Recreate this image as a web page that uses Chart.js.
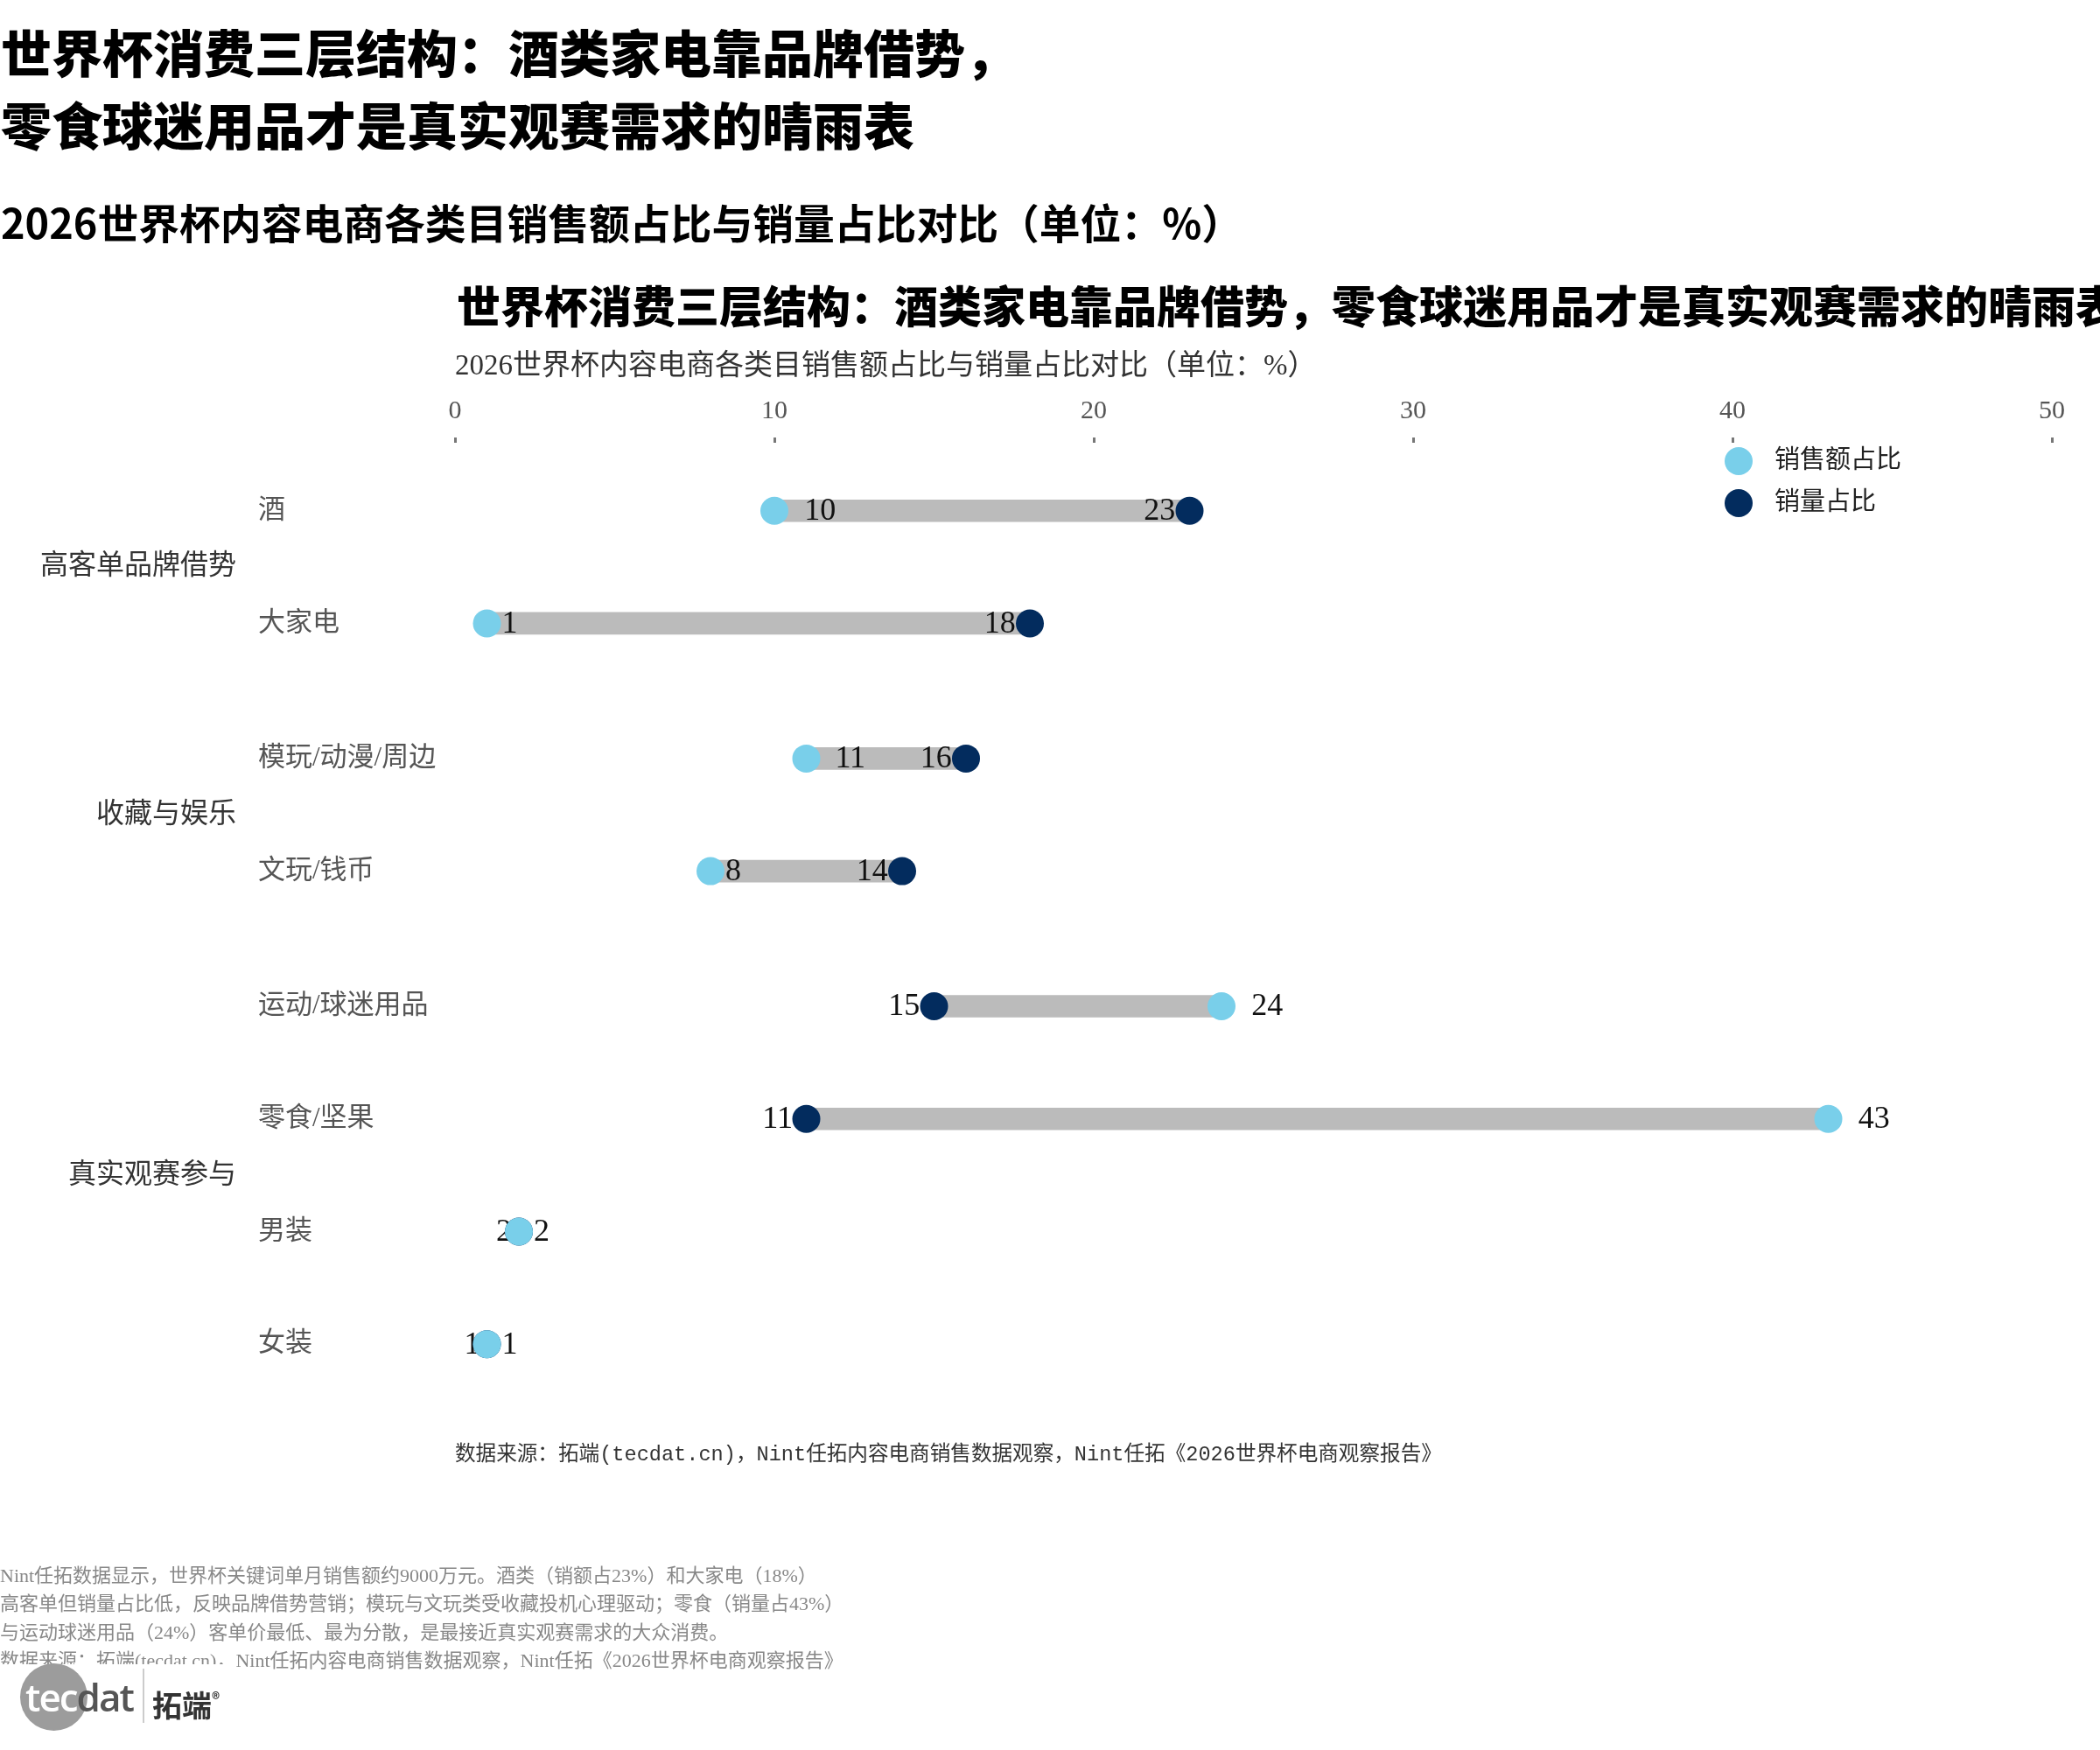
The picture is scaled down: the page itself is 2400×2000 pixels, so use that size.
<!DOCTYPE html>
<html>
<head>
<meta charset="utf-8">
<script src="https://cdn.jsdelivr.net/npm/chart.js@4.4.1/dist/chart.umd.min.js"></script>
<style>
html, body { margin: 0; padding: 0; background: #fff; }
body { width: 2400px; height: 2000px; position: relative; overflow: hidden; font-family: "Noto Sans CJK SC", sans-serif; }
#c { position: absolute; left: 0; top: 0; }
.t { position: absolute; white-space: nowrap; }
#h1 { left: 1px; top: 17px; font-size: 58px; font-weight: 900; line-height: 83px; color: #000; }
#h2 { left: 1px; top: 226px; font-size: 46.8px; font-weight: bold; line-height: 54px; color: #000; }
#ct { left: 522px; top: 317px; font-size: 50px; font-weight: 900; line-height: 60px; color: #000; }
#cs { left: 520px; top: 397px; font-size: 33px; line-height: 40px; color: #333; font-family: "Liberation Serif", "Noto Sans CJK SC", serif; }
#src { left: 520px; top: 1648px; font-size: 23.6px; line-height: 30px; color: #333; font-family: "Liberation Mono", "Noto Sans CJK SC", monospace; }
#notes { left: 0; top: 1785px; font-size: 22px; line-height: 32.3px; color: #888; font-family: "Liberation Serif", "Noto Sans CJK SC", serif; }
#logo { position: absolute; left: 0; top: 1902px; width: 270px; height: 98px; background: #fff; }
#logo .circle { position: absolute; left: 23px; top: -1px; width: 77px; height: 77px; border-radius: 50%; background: #9c9c9c; }
#logo .word { position: absolute; left: 29px; top: 12px; font-family: "Open Sans", sans-serif; font-size: 44px; font-weight: 600; line-height: 50px; letter-spacing: -2px; }
#logo .bar { position: absolute; left: 163px; top: 5px; width: 2px; height: 62px; background: #ccc; }
#logo .cn { position: absolute; left: 174px; top: 16px; font-size: 34px; font-weight: bold; line-height: 44px; color: #333; }
#logo .cn sup { font-size: 18px; vertical-align: 14px; }
</style>
</head>
<body>
<canvas id="c" width="2400" height="2000"></canvas>
<div class="t" id="h1">世界杯消费三层结构：酒类家电靠品牌借势，<br>零食球迷用品才是真实观赛需求的晴雨表</div>
<div class="t" id="h2">2026世界杯内容电商各类目销售额占比与销量占比对比（单位：%）</div>
<div class="t" id="ct"></div>
<div class="t" id="cs"></div>
<div class="t" id="src">数据来源：拓端(tecdat.cn)，Nint任拓内容电商销售数据观察，Nint任拓《2026世界杯电商观察报告》</div>
<div class="t" id="notes">Nint任拓数据显示，世界杯关键词单月销售额约9000万元。酒类（销额占23%）和大家电（18%）<br>高客单但销量占比低，反映品牌借势营销；模玩与文玩类受收藏投机心理驱动；零食（销量占43%）<br>与运动球迷用品（24%）客单价最低、最为分散，是最接近真实观赛需求的大众消费。<br>数据来源：拓端(tecdat.cn)，Nint任拓内容电商销售数据观察，Nint任拓《2026世界杯电商观察报告》</div>
<div id="logo">
  <div class="circle"></div>
  <div class="word"><span style="color:#fff">tec</span><span style="color:#555">dat</span></div>
  <div class="bar"></div>
  <div class="cn">拓端<sup>®</sup></div>
</div>
<script>
// 数据
const categories = ['酒', '大家电', '模玩/动漫/周边', '文玩/钱币', '运动/球迷用品', '零食/坚果', '男装', '女装'];
const rowPos = [0, 1, 2.2, 3.2, 4.4, 5.4, 6.4, 7.4];
const salesShare = [10, 1, 11, 8, 24, 43, 2, 1];
const volumeShare = [23, 18, 16, 14, 15, 11, 2, 1];
const groups = ['高客单品牌借势', '收藏与娱乐', '真实观赛参与'];
const groupRows = [[0, 1], [2, 3], [4, 5, 6, 7]];
const xTicks = [0, 10, 20, 30, 40, 50];
const seriesNames = ['销售额占比', '销量占比'];

const chartTitle = '世界杯消费三层结构：酒类家电靠品牌借势，零食球迷用品才是真实观赛需求的晴雨表';
const chartSubtitle = '2026世界杯内容电商各类目销售额占比与销量占比对比（单位：%）';

const lightBlue = '#79CFEA';
const navy = '#032C5E';
const serif = '"Liberation Serif", "Noto Sans CJK SC", serif';

// 图内标题超出画布右边，用文字层放，不让 Chart.js 压缩
document.getElementById('ct').textContent = chartTitle;
document.getElementById('cs').textContent = chartSubtitle;

// 数值标签画在灰条之上、圆点之下
const valueLabels = {
    id: 'valueLabels',
    afterDatasetDraw(chart, args) {
        if (args.meta.type !== 'bar') return;
        const ctx = chart.ctx, x = chart.scales.x, y = chart.scales.y;
        ctx.save();
        ctx.font = '36px ' + serif;
        ctx.fillStyle = '#111';
        ctx.textBaseline = 'middle';
        categories.forEach(function (c, i) {
            const py = y.getPixelForValue(rowPos[i]) + 1;
            const ts = String(salesShare[i]);
            const tv = String(volumeShare[i]);
            ctx.textAlign = 'left';
            ctx.fillText(ts, x.getPixelForValue(salesShare[i]) + 0.95 * ctx.measureText(ts).width, py);
            ctx.textAlign = 'right';
            ctx.fillText(tv, x.getPixelForValue(volumeShare[i]) - 0.45 * ctx.measureText(tv).width, py);
        });
        ctx.restore();
    }
};

// 分组标签和图例
const extras = {
    id: 'extras',
    afterDraw(chart) {
        const ctx = chart.ctx, y = chart.scales.y, area = chart.chartArea;
        ctx.save();
        ctx.font = '32px ' + serif;
        ctx.fillStyle = '#333';
        ctx.textAlign = 'right';
        ctx.textBaseline = 'middle';
        groups.forEach(function (g, k) {
            const rows = groupRows[k];
            const mid = (rowPos[rows[0]] + rowPos[rows[rows.length - 1]]) / 2;
            ctx.fillText(g, area.left - 250, y.getPixelForValue(mid));
        });

        const colors = [lightBlue, navy];
        const lx = area.right - 358;
        ctx.font = '29px ' + serif;
        ctx.textAlign = 'left';
        seriesNames.forEach(function (name, k) {
            const ly = area.top + 21 + k * 48;
            ctx.beginPath();
            ctx.arc(lx, ly, 16, 0, Math.PI * 2);
            ctx.fillStyle = colors[k];
            ctx.fill();
            ctx.fillStyle = '#222';
            ctx.fillText(name, lx + 41, ly);
        });
        ctx.restore();
    }
};

document.addEventListener('DOMContentLoaded', function () {
    const ctx = document.getElementById('c').getContext('2d');
    new Chart(ctx, {
        type: 'scatter',
        data: {
            datasets: [{
                type: 'bar',
                indexAxis: 'y',
                label: 'range',
                data: rowPos.map(function (p, i) {
                    return { y: p, x: [Math.min(salesShare[i], volumeShare[i]), Math.max(salesShare[i], volumeShare[i])] };
                }),
                backgroundColor: '#BBBBBB',
                borderWidth: 0,
                barThickness: 25,
                order: 3
            }, {
                label: seriesNames[1],
                data: rowPos.map(function (p, i) { return { x: volumeShare[i], y: p }; }),
                backgroundColor: navy,
                borderColor: navy,
                borderWidth: 0,
                pointRadius: 16,
                pointHoverRadius: 16,
                order: 2
            }, {
                label: seriesNames[0],
                data: rowPos.map(function (p, i) { return { x: salesShare[i], y: p }; }),
                backgroundColor: lightBlue,
                borderColor: lightBlue,
                borderWidth: 0,
                pointRadius: 16,
                pointHoverRadius: 16,
                order: 1
            }]
        },
        options: {
            responsive: false,
            devicePixelRatio: 1,
            animation: false,
            events: [],
            layout: { padding: { top: 440, left: 295, right: 55, bottom: 400 } },
            scales: {
                x: {
                    type: 'linear',
                    position: 'top',
                    min: 0,
                    max: 50,
                    afterBuildTicks: function (s) { s.ticks = xTicks.map(function (v) { return { value: v }; }); },
                    ticks: { font: { family: serif, size: 30, lineHeight: 1.2 }, color: '#555', padding: 12 },
                    grid: { display: true, drawOnChartArea: false, drawTicks: true, tickLength: 6, tickWidth: 3, tickColor: '#777' },
                    border: { display: false }
                },
                y: {
                    type: 'linear',
                    reverse: true,
                    offset: false,
                    min: -0.604,
                    max: 7.896,
                    afterBuildTicks: function (s) { s.ticks = rowPos.map(function (v) { return { value: v }; }); },
                    afterFit: function (s) { s.width = 225; },
                    ticks: {
                        autoSkip: false,
                        crossAlign: 'far',
                        padding: 0,
                        color: '#555',
                        font: { family: serif, size: 31, lineHeight: 1.2 },
                        callback: function (v) { return categories[rowPos.indexOf(v)]; }
                    },
                    grid: { display: false },
                    border: { display: false }
                }
            },
            plugins: {
                legend: { display: false },
                tooltip: { enabled: false }
            }
        },
        plugins: [valueLabels, extras]
    });
});
</script>
</body>
</html>
